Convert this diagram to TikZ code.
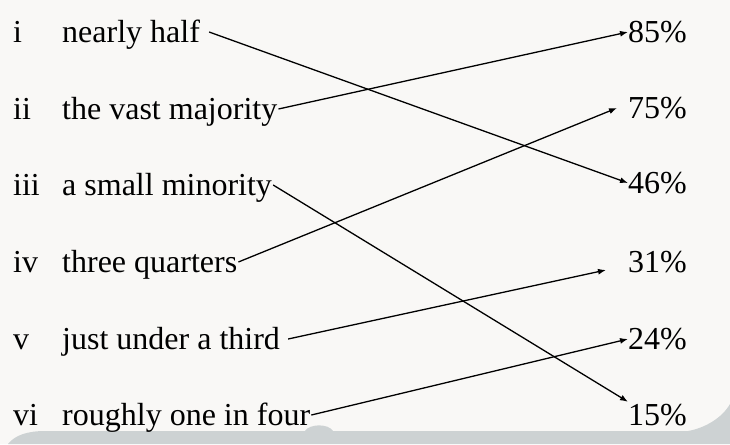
\documentclass[tikz,border=0pt]{standalone}
\usepackage{fontspec}
\setmainfont{Liberation Serif}
\usetikzlibrary{arrows.meta}
\definecolor{paper}{HTML}{F9F8F6}
\definecolor{band}{HTML}{CDD2D3}

\begin{document}
\begin{tikzpicture}[x=1pt, y=-1pt,
    every node/.style={font=\fontsize{32}{32}\selectfont, inner sep=0pt,
        text height=20pt, text depth=0pt, anchor=base west},
    link/.style={-{Latex[length=8pt,width=6pt]}, line width=1.3pt}]
    \useasboundingbox (0,0) rectangle (730,444);
    \fill[paper] (0,0) rectangle (730,444);
    \fill[band] (8,444) .. controls (15,435) and (28,431) .. (45,431) -- (305,431)
        .. controls (309,424) and (328,423) .. (333,431) -- (688,431)
        .. controls (705,428) and (722,418) .. (730,404) -- (730,444) -- cycle;
    % numbering
    \node (ri) at (13,42) {i};
    \node (rii) at (13,119) {ii};
    \node (riii) at (13,195) {iii};
    \node (riv) at (13,272) {iv};
    \node (rv) at (13,349) {v};
    \node (rvi) at (13,425) {vi};
    % phrases
    \node (half) at (62,42) {nearly half};
    \node (most) at (62,119) {the vast majority};
    \node (few) at (62,195) {a small minority};
    \node (threeq) at (62,272) {three quarters};
    \node (third) at (62,349) {just under a third};
    \node (quart) at (62,425) {roughly one in four};
    % percentages
    \node (p85) at (628,42) {85\%};
    \node (p75) at (628,118) {75\%};
    \node (p46) at (628,193) {46\%};
    \node (p31) at (628,272) {31\%};
    \node (p24) at (628,349) {24\%};
    \node (p15) at (628,425) {15\%};
    % matches
    \draw[link] ([xshift=9pt]half.east) -- (p46.west);
    \draw[link] ([xshift=1pt]most.east) -- (p85.west);
    \draw[link] ([xshift=1pt]few.east) -- ([yshift=3pt]p15.north west);
    \draw[link] ([xshift=1pt]threeq.east) -- ([xshift=-11pt]p75.west);
    \draw[link] ([xshift=8pt]third.east) -- ([xshift=-22pt,yshift=-8pt]p31.west);
    \draw[link] ([xshift=1pt]quart.east) -- (p24.west);
\end{tikzpicture}
\end{document}
